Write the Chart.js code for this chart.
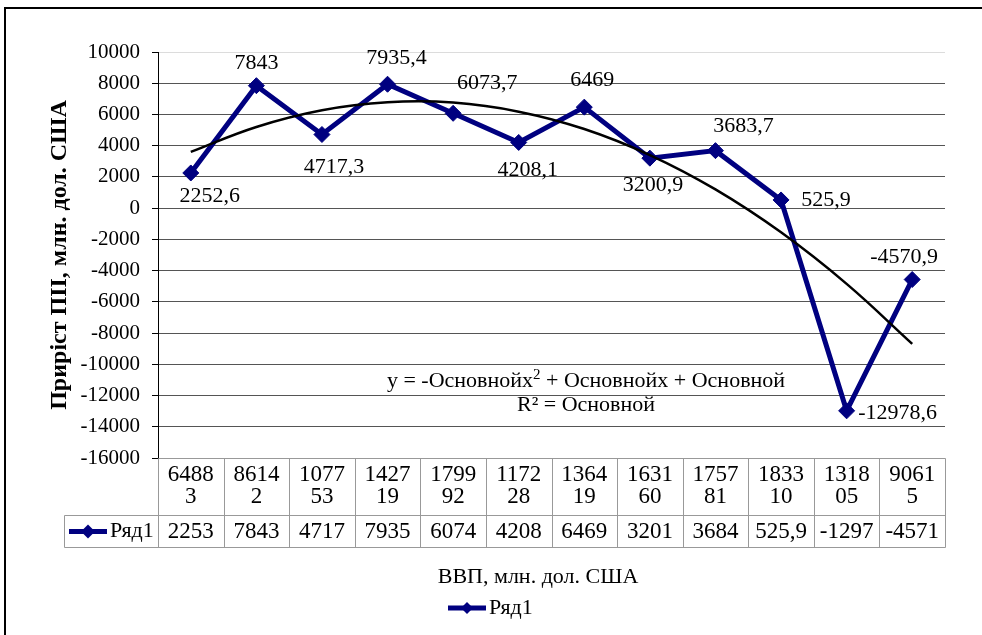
<!DOCTYPE html>
<html>
<head>
<meta charset="utf-8">
<script src="https://cdn.jsdelivr.net/npm/chart.js@4.4.1/dist/chart.umd.min.js"></script>
<style>
  html, body { margin: 0; padding: 0; background: #fff; }
</style>
</head>
<body>
<canvas id="chartPii" width="982" height="635"></canvas>
<script>
const categories = ['64883', '86142', '107753', '142719', '179992', '117228', '136419', '163160', '175781', '183310', '131805', '90615'];
const seriesValues = [2252.6, 7843, 4717.3, 7935.4, 6073.7, 4208.1, 6469, 3200.9, 3683.7, 525.9, -12978.6, -4570.9];
const tableValues = ['2253', '7843', '4717', '7935', '6074', '4208', '6469', '3201', '3684', '525,9', '-1297', '-4571'];
// polynomial trendline at each category
const trendValues = [3600, 5200, 6270, 6780, 6760, 6180, 5070, 3400, 1200, -1550, -4850, -8690];
const yMin = -16000;
const yMax = 10000;
const yStep = 2000;
const seriesName = 'Ряд1';
const yTitle = 'Приріст ПІІ, млн. дол. США';
const xTitle = 'ВВП, млн. дол. США';
const equationParts = ['y = -Основнойx', '2', ' + Основнойx + Основной'];
const rSquaredText = 'R² = Основной';

const FONT = "'Liberation Serif', 'Times New Roman', serif";
const NAVY = '#000080';
// label offset from its point, [dx, dy]
const labelOffsets = [[19, 23], [0, -22], [12, 33], [9, -26], [34, -30], [9, 28], [8, -27], [3, 27], [28, -24], [45, 0], [51, 2], [-8, -22]];

const formatValue = (v) => String(v).replace('.', ',');

const drawMarker = (ctx, cx, cy, half) => {
    ctx.strokeStyle = NAVY;
    ctx.lineWidth = 5;
    ctx.beginPath();
    ctx.moveTo(cx - 19, cy);
    ctx.lineTo(cx + 19, cy);
    ctx.stroke();
    ctx.fillStyle = NAVY;
    ctx.beginPath();
    ctx.moveTo(cx, cy - half);
    ctx.lineTo(cx + half, cy);
    ctx.lineTo(cx, cy + half);
    ctx.lineTo(cx - half, cy);
    ctx.closePath();
    ctx.fill();
};

const frame = {
    id: 'frame',
    beforeDraw(chart) {
        const { ctx } = chart;
        ctx.save();
        ctx.fillStyle = '#fff';
        ctx.fillRect(0, 0, chart.width, chart.height);
        ctx.strokeStyle = '#000';
        ctx.lineWidth = 2;
        ctx.beginPath();
        ctx.moveTo(5, chart.height);
        ctx.lineTo(5, 8);
        ctx.lineTo(chart.width, 8);
        ctx.stroke();
        ctx.restore();
    },
};

const pointLabels = {
    id: 'pointLabels',
    afterDatasetsDraw(chart) {
        const { ctx } = chart;
        const meta = chart.getDatasetMeta(0);
        ctx.save();
        ctx.font = `22px ${FONT}`;
        ctx.fillStyle = '#000';
        ctx.textAlign = 'center';
        ctx.textBaseline = 'middle';
        meta.data.forEach((pt, i) => {
            const [dx, dy] = labelOffsets[i];
            ctx.fillText(formatValue(seriesValues[i]), pt.x + dx, pt.y + dy);
        });
        ctx.restore();
    },
};

const dataTable = {
    id: 'dataTable',
    afterDraw(chart) {
        const { ctx, chartArea } = chart;
        const x = chart.scales.x;
        const step = x.getPixelForValue(1) - x.getPixelForValue(0);
        const top = Math.round(chartArea.bottom) + 0.5;
        const mid = top + 57;
        const bottom = mid + 32;
        const left = Math.round(chartArea.left) + 0.5;
        const right = Math.round(chartArea.right) + 0.5;
        const rowLeft = 64.5;

        ctx.save();
        ctx.strokeStyle = '#999';
        ctx.lineWidth = 1;
        ctx.beginPath();
        ctx.moveTo(left, top); ctx.lineTo(right, top);
        ctx.moveTo(rowLeft, mid); ctx.lineTo(right, mid);
        ctx.moveTo(rowLeft, bottom); ctx.lineTo(right, bottom);
        ctx.moveTo(rowLeft, mid); ctx.lineTo(rowLeft, bottom);
        categories.forEach((_, i) => {
            const edge = Math.round(x.getPixelForValue(i) - step / 2) + 0.5;
            ctx.moveTo(edge, top); ctx.lineTo(edge, bottom);
        });
        ctx.moveTo(right, top); ctx.lineTo(right, bottom);
        ctx.stroke();

        ctx.fillStyle = '#000';
        ctx.font = `23px ${FONT}`;
        ctx.textAlign = 'center';
        ctx.textBaseline = 'middle';
        categories.forEach((cat, i) => {
            const cx = x.getPixelForValue(i);
            ctx.fillText(cat.slice(0, 4), cx, top + 16);
            ctx.fillText(cat.slice(4), cx, top + 38);
            ctx.fillText(tableValues[i], cx, mid + 16);
        });

        drawMarker(ctx, 88, mid + 16, 7);
        ctx.fillStyle = '#000';
        ctx.textAlign = 'left';
        ctx.font = `22px ${FONT}`;
        ctx.fillText(seriesName, 110, mid + 16);

        // axis title and legend under the table
        ctx.textAlign = 'center';
        ctx.fillText(xTitle, 538, 577);
        drawMarker(ctx, 467, 608, 6);
        ctx.fillStyle = '#000';
        ctx.textAlign = 'left';
        ctx.fillText(seriesName, 489, 608);

        // trendline equation
        ctx.textAlign = 'left';
        const supFont = `15px ${FONT}`;
        const mainFont = `22px ${FONT}`;
        ctx.font = mainFont;
        const w0 = ctx.measureText(equationParts[0]).width;
        const w2 = ctx.measureText(equationParts[2]).width;
        ctx.font = supFont;
        const w1 = ctx.measureText(equationParts[1]).width;
        const startX = 586 - (w0 + w1 + w2) / 2;
        ctx.font = mainFont;
        ctx.fillText(equationParts[0], startX, 381);
        ctx.font = supFont;
        ctx.fillText(equationParts[1], startX + w0, 375);
        ctx.font = mainFont;
        ctx.fillText(equationParts[2], startX + w0 + w1, 381);
        ctx.textAlign = 'center';
        ctx.fillText(rSquaredText, 586, 405);
        ctx.restore();
    },
};

new Chart(document.getElementById('chartPii'), {
    type: 'line',
    data: {
        labels: categories,
        datasets: [
            {
                label: seriesName,
                data: seriesValues,
                borderColor: NAVY,
                backgroundColor: NAVY,
                borderWidth: 5,
                pointStyle: 'rectRot',
                pointRadius: 8,
                pointBackgroundColor: NAVY,
                pointBorderColor: NAVY,
                pointBorderWidth: 1,
                tension: 0,
                order: 2,
            },
            {
                label: 'trend',
                data: trendValues,
                borderColor: '#000',
                borderWidth: 2.5,
                pointRadius: 0,
                tension: 0.4,
                fill: false,
                order: 1,
            },
        ],
    },
    plugins: [frame, pointLabels, dataTable],
    options: {
        responsive: false,
        animation: false,
        events: [],
        layout: { padding: { left: 0, top: 52, right: 37, bottom: 177 } },
        plugins: {
            legend: { display: false },
            tooltip: { enabled: false },
        },
        scales: {
            x: {
                type: 'category',
                display: false,
                offset: true,
            },
            y: {
                min: yMin,
                max: yMax,
                afterFit: (scale) => { scale.width = 158; },
                ticks: {
                    stepSize: yStep,
                    color: '#000',
                    padding: 12,
                    font: { family: FONT, size: 21 },
                    callback: (value) => String(value),
                },
                grid: {
                    color: (c) => (c.tick && c.tick.value === yMax ? '#dcdcdc' : '#555'),
                    tickColor: '#000',
                    tickLength: 6,
                },
                border: { display: true, color: '#000', width: 1 },
                title: {
                    display: true,
                    text: yTitle,
                    color: '#000',
                    font: { family: FONT, size: 24, weight: 'bold' },
                    padding: { top: 45, bottom: 0 },
                },
            },
        },
    },
});
</script>
</body>
</html>
